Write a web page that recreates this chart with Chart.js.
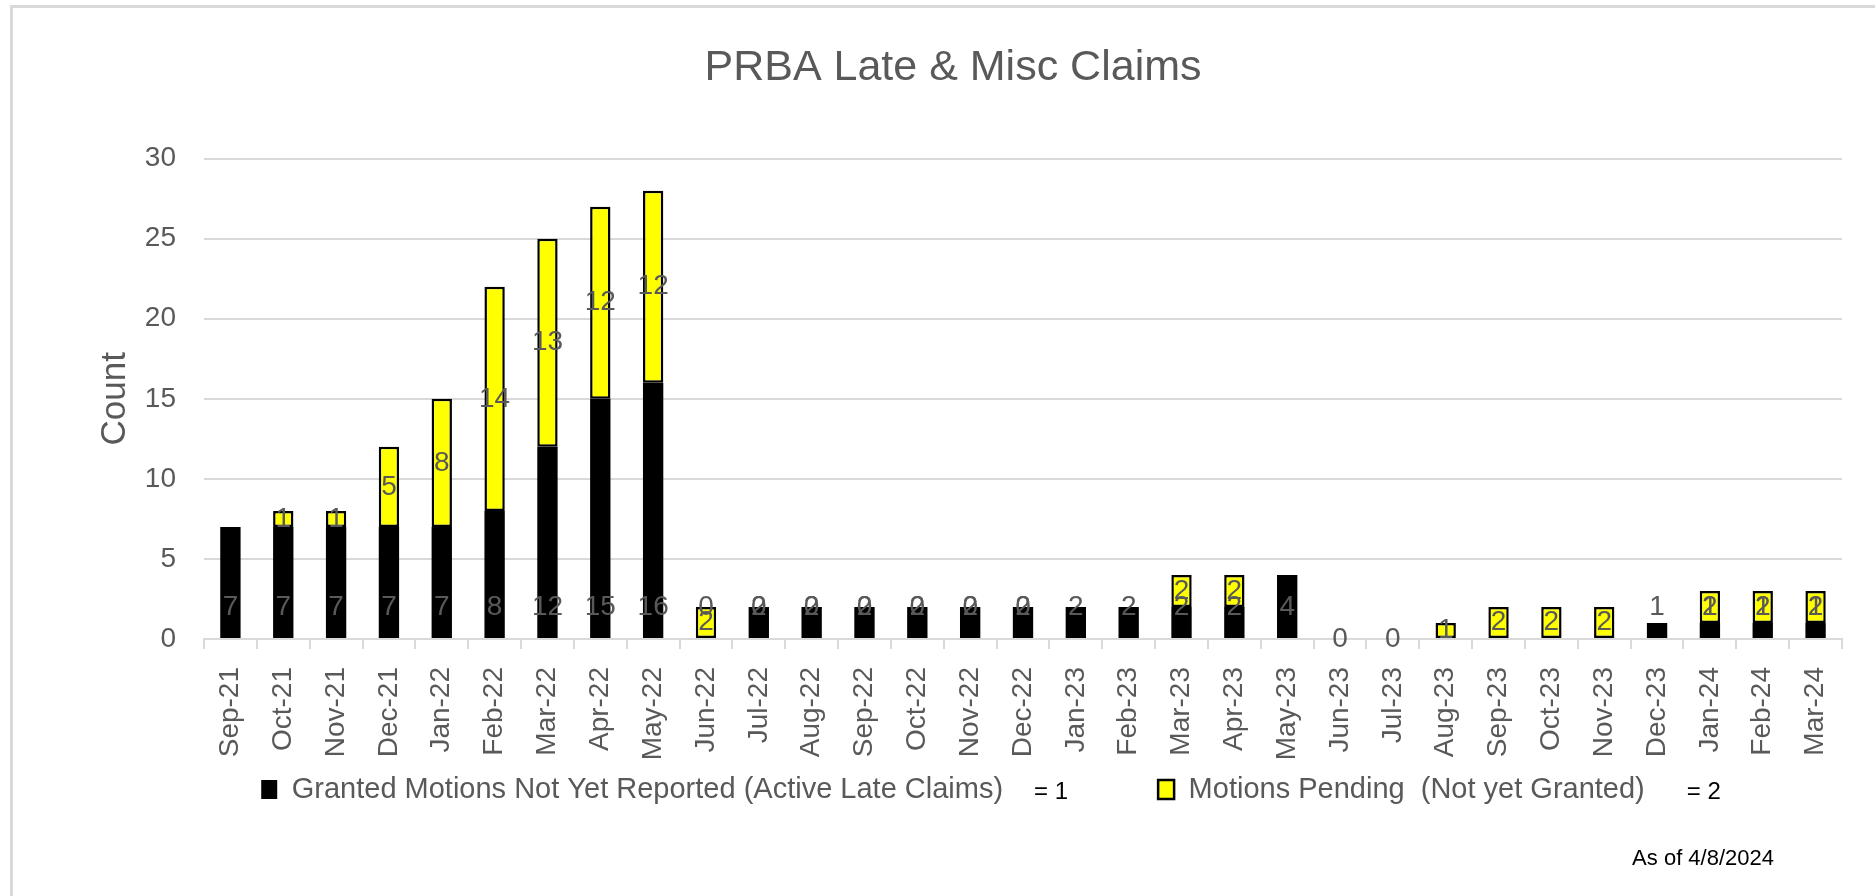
<!DOCTYPE html>
<html>
<head>
<meta charset="utf-8">
<title>PRBA Late & Misc Claims</title>
<script src="https://cdn.jsdelivr.net/npm/chart.js@4.4.1/dist/chart.umd.min.js"></script>
<style>
  html, body { margin: 0; padding: 0; background: #fff; overflow: hidden; }
  #frame {
    position: absolute; left: 10px; top: 5px;
    width: 1872px; height: 888px;
    border-left: 3px solid #d9d9d9; border-top: 3px solid #d9d9d9;
  }
</style>
</head>
<body>
<div id="frame"><canvas id="myChart"></canvas></div>
<script>
const months = ['Sep-21', 'Oct-21', 'Nov-21', 'Dec-21', 'Jan-22', 'Feb-22', 'Mar-22', 'Apr-22',
  'May-22', 'Jun-22', 'Jul-22', 'Aug-22', 'Sep-22', 'Oct-22', 'Nov-22', 'Dec-22', 'Jan-23',
  'Feb-23', 'Mar-23', 'Apr-23', 'May-23', 'Jun-23', 'Jul-23', 'Aug-23', 'Sep-23', 'Oct-23',
  'Nov-23', 'Dec-23', 'Jan-24', 'Feb-24', 'Mar-24']

// granted motions not yet reported (black)
const granted = [7, 7, 7, 7, 7, 8, 12, 15, 16, 0, 2, 2, 2, 2, 2, 2, 2,
  2, 2, 2, 4, null, null, null, null, null,
  null, 1, 1, 1, 1]

// motions pending (yellow)
const pending = [null, 1, 1, 5, 8, 14, 13, 12, 12, 2, 0, 0, 0, 0, 0, 0, null,
  null, 2, 2, null, 0, 0, 1, 2, 2,
  2, null, 2, 2, 2]

const yTicks = [0, 5, 10, 15, 20, 25, 30]

const names = ['Granted Motions Not Yet Reported (Active Late Claims)', 'Motions Pending  (Not yet Granted)']
const notes = ['= 1', '= 2']
const asOf = 'As of 4/8/2024'

const grey = '#595959'
const lineGrey = '#d9d9d9'

// check if the narrow font is there, otherwise use the normal one smaller
const narrowOk = (function () {
  const c = document.createElement('canvas').getContext('2d')
  c.font = '40px monospace'
  const w0 = c.measureText('Granted Motions').width
  c.font = '40px "Liberation Sans Narrow", monospace'
  return c.measureText('Granted Motions').width !== w0
})()
const narrow = narrowOk ? '"Liberation Sans Narrow"' : '"Liberation Sans"'
const legendSize = narrowOk ? 35 : 29
const noteSize = narrowOk ? 28 : 24
const asOfSize = narrowOk ? 26 : 22

function measure(text, size) {
  const c = document.createElement('canvas').getContext('2d')
  c.font = size + 'px ' + narrow
  return c.measureText(text).width
}

// first legend item is padded with spaces so the second one starts further right
function padText(text, size, width) {
  let t = text
  while (measure(t + ' ', size) <= width) t += ' '
  return t
}

const extraText = {
  id: 'extraText',
  afterDraw(chart) {
    const ctx = chart.ctx
    const boxes = chart.legend.legendHitBoxes
    ctx.save()
    ctx.fillStyle = '#000'
    ctx.textBaseline = 'middle'
    ctx.textAlign = 'left'
    ctx.font = noteSize + 'px ' + narrow
    const gaps = [31, 42]
    boxes.forEach((hb, i) => {
      const x = hb.left + 16 + legendSize / 2 + measure(names[i], legendSize) + gaps[i]
      ctx.fillText(notes[i], x, hb.top + legendSize / 2 + 3)
    })
    ctx.font = asOfSize + 'px ' + narrow
    ctx.textAlign = 'right'
    ctx.fillText(asOf, chart.chartArea.right - 68, chart.height - 37)
    ctx.restore()
  }
}

const barLabels = {
  id: 'barLabels',
  afterDatasetsDraw(chart) {
    const ctx = chart.ctx
    const base = chart.scales.y.getPixelForValue(0)
    ctx.save()
    ctx.font = '28px "Liberation Sans", Arial, sans-serif'
    ctx.fillStyle = grey
    ctx.textAlign = 'center'
    ctx.textBaseline = 'middle'
    chart.data.datasets.forEach((ds, i) => {
      chart.getDatasetMeta(i).data.forEach((bar, j) => {
        const v = ds.data[j]
        if (v === null) return
        // black ones sit near the base, yellow ones in the middle of their part
        const ty = i === 0 ? base - 32 : (bar.y + bar.base) / 2
        ctx.fillText(String(v), bar.x, ty)
      })
    })
    ctx.restore()
  }
}

const ctx = document.getElementById('myChart')
new Chart(ctx, {
  type: 'bar',
  data: {
    labels: months,
    datasets: [{
      label: padText(names[0], legendSize, 898 - 10 - 16 - legendSize / 2),
      data: granted,
      backgroundColor: '#000000',
      borderColor: '#000000',
      borderWidth: 0,
      barPercentage: 0.385,
      categoryPercentage: 1
    }, {
      label: names[1],
      data: pending,
      backgroundColor: '#ffff00',
      borderColor: '#000000',
      borderWidth: 2.5,
      borderSkipped: false,
      barPercentage: 0.385,
      categoryPercentage: 1
    }]
  },
  options: {
    responsive: true,
    maintainAspectRatio: false,
    animation: false,
    layout: { padding: { left: 51, right: 43, top: 0, bottom: 82 } },
    plugins: {
      title: {
        display: true,
        text: 'PRBA Late & Misc Claims',
        color: grey,
        font: { family: '"Liberation Sans", Arial', size: 43, weight: 'normal' },
        padding: { top: 34, bottom: 65 }
      },
      legend: {
        position: 'bottom',
        labels: {
          color: grey,
          font: { family: narrow, size: legendSize },
          boxWidth: 16,
          boxHeight: 19,
          padding: 10
        }
      },
      tooltip: { enabled: false }
    },
    scales: {
      x: {
        stacked: true,
        grid: { display: true, drawOnChartArea: false, drawTicks: true, tickLength: 10, color: lineGrey, lineWidth: 2 },
        border: { display: true, color: lineGrey, width: 2 },
        ticks: {
          autoSkip: false, maxRotation: 90, minRotation: 90, padding: 18,
          color: grey, font: { family: '"Liberation Sans", Arial', size: 28 }
        },
        afterFit(scale) { scale.height = 126 }
      },
      y: {
        stacked: true,
        min: 0,
        max: 30,
        afterBuildTicks(scale) { scale.ticks = yTicks.map(v => ({ value: v })) },
        grid: { color: lineGrey, lineWidth: 2, drawTicks: false },
        border: { display: false },
        ticks: { padding: 28, color: grey, font: { family: '"Liberation Sans", Arial', size: 28 } },
        title: {
          display: true, text: 'Count', color: grey,
          font: { family: '"Liberation Sans", Arial', size: 35 },
          padding: { top: 30, bottom: 0 }
        },
        afterFit(scale) { scale.width = 140 }
      }
    }
  },
  plugins: [barLabels, extraText]
})
</script>
</body>
</html>
